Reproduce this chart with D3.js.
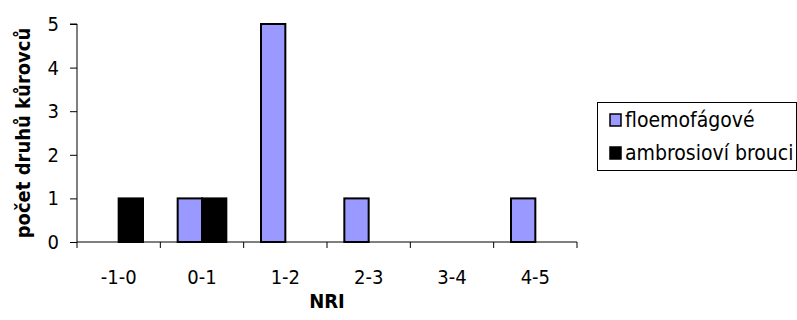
<!DOCTYPE html>
<html>
<head>
<meta charset="utf-8">
<script src="https://cdn.jsdelivr.net/npm/d3@7"></script>
<style>
  html, body { margin: 0; padding: 0; background: #fff; }
  svg { display: block; font-family: "DejaVu Sans Condensed", "DejaVu Sans", sans-serif; font-stretch: condensed; }
</style>
</head>
<body>
<svg id="chart" width="797" height="320"></svg>
<script>
// NRI classes and number of bark beetle species per feeding group
const categories = ["-1-0", "0-1", "1-2", "2-3", "3-4", "4-5"];
const seriesNames = ["floemofágové", "ambrosioví brouci"];
const floemofagove = [0, 1, 5, 1, 0, 1];
const ambrosiovi = [1, 1, 0, 0, 0, 0];
const yTicks = [0, 1, 2, 3, 4, 5];
const colors = ["#9999FF", "#000000"];

const series = [floemofagove, ambrosiovi];

const svg = d3.select("#chart");
const plot = { left: 77, right: 577, top: 24, bottom: 242 };
const labelSize = 20;
const legendSize = 21;
const titleSize = 20;
const fontStack = "'DejaVu Sans Condensed', 'DejaVu Sans', sans-serif";

const x = d3.scaleBand().domain(categories).range([plot.left, plot.right]).paddingInner(0).paddingOuter(0);
const y = d3.scaleLinear().domain([0, 5]).range([plot.bottom, plot.top]);
const groupWidth = x.bandwidth() * 0.584;
const xs = d3.scaleBand().domain(d3.range(series.length)).range([0, groupWidth]);

// bars
series.forEach((vals, si) => {
  svg.append("g").selectAll("rect")
    .data(vals.map((v, i) => ({ cat: categories[i], v })).filter(d => d.v > 0))
    .join("rect")
    .attr("x", d => x(d.cat) + (x.bandwidth() - groupWidth) / 2 + xs(si))
    .attr("y", d => y(d.v))
    .attr("width", xs.bandwidth())
    .attr("height", d => y(0) - y(d.v))
    .attr("fill", colors[si])
    .attr("stroke", "#000")
    .attr("stroke-width", 2);
});

// y axis
const yAxis = d3.axisLeft(y).tickValues(yTicks).tickFormat(d3.format("d")).tickSize(7).tickPadding(11);
const gy = svg.append("g").attr("transform", `translate(${plot.left},0)`).call(yAxis);
gy.attr("font-family", null).attr("font-size", null);
gy.select(".domain").attr("d", `M-7,${plot.top}H0V${plot.bottom}`).attr("stroke", "#000");
gy.selectAll("line").attr("stroke", "#000");
gy.selectAll("text").attr("font-size", labelSize).attr("fill", "#000")
  .attr("font-family", fontStack);

// x axis with ticks at the category boundaries
const boundaries = categories.map(c => x(c)).concat([plot.right]);
const gx = svg.append("g");
gx.append("line").attr("x1", plot.left).attr("x2", plot.right)
  .attr("y1", plot.bottom).attr("y2", plot.bottom).attr("stroke", "#000");
gx.selectAll("line.tick").data(boundaries).join("line").attr("class", "tick")
  .attr("x1", d => d).attr("x2", d => d)
  .attr("y1", plot.bottom).attr("y2", plot.bottom + 6).attr("stroke", "#000");
gx.selectAll("text").data(categories).join("text")
  .attr("x", d => x(d) + x.bandwidth() / 2)
  .attr("y", 284)
  .attr("text-anchor", "middle")
  .attr("font-size", labelSize)
  .text(d => d);

// axis titles
svg.append("text").attr("x", plot.left + (plot.right - plot.left) / 2).attr("y", 308)
  .attr("text-anchor", "middle").attr("font-size", titleSize).attr("font-weight", "bold").text("NRI");
svg.append("text")
  .attr("transform", `translate(30,${(plot.top + plot.bottom) / 2}) rotate(-90)`)
  .attr("text-anchor", "middle").attr("font-size", titleSize).attr("font-weight", "bold")
  .text("počet druhů kůrovců");

// legend
const lg = svg.append("g").attr("transform", "translate(597,102)");
lg.append("rect").attr("x", 0.5).attr("y", 0.5).attr("width", 199).attr("height", 68)
  .attr("fill", "#fff").attr("stroke", "#000");
seriesNames.forEach((name, i) => {
  const row = lg.append("g").attr("transform", `translate(0,${18 + i * 33})`);
  row.append("rect").attr("x", 13).attr("y", -6).attr("width", 11).attr("height", 12)
    .attr("fill", colors[i]).attr("stroke", "#000").attr("stroke-width", 1.5);
  row.append("text").attr("x", 28).attr("y", 7).attr("font-size", legendSize).text(name);
});
</script>
</body>
</html>
